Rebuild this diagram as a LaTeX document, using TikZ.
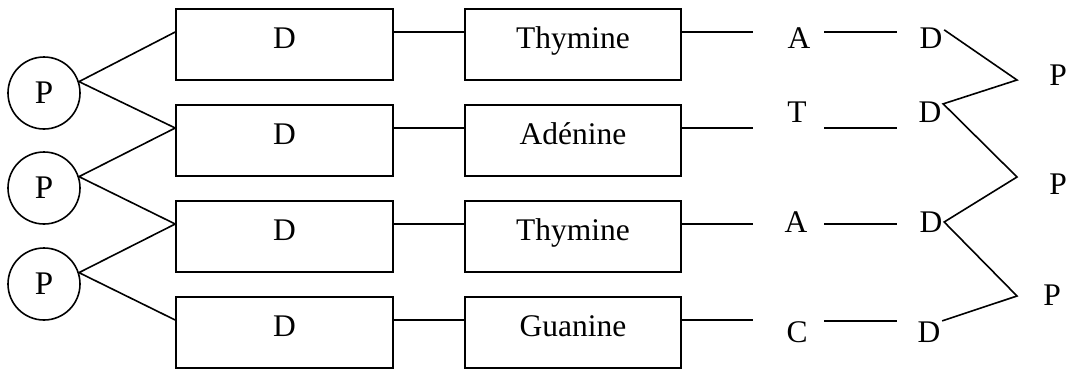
\documentclass[tikz,border=0pt]{standalone}
\usepackage{fontspec}
\setmainfont{Liberation Serif}
\begin{document}
\begin{tikzpicture}[x=1pt,y=-1pt,line width=1.6pt,
  lbl/.style={font=\fontsize{31.5}{36}\selectfont, inner sep=0pt},
  box/.style={draw, rectangle, minimum height=71pt, font=\fontsize{31.5}{36}\selectfont, text height=20pt, text depth=12pt, inner sep=0pt},
  dbox/.style={box, minimum width=217pt},
  mbox/.style={box, minimum width=216pt},
  pcirc/.style={draw, circle, minimum size=72pt, inner sep=0pt, font=\fontsize{33}{38}\selectfont}]
\useasboundingbox (0,0) rectangle (1068,368);
% circles
\node[pcirc] (p1) at (44,93) {P};
\node[pcirc] (p2) at (44,188) {P};
\node[pcirc] (p3) at (44,284) {P};
% boxes
\node[dbox] (d1) at (284.5,44.5) {D};
\node[dbox] (d2) at (284.5,140.5) {D};
\node[dbox] (d3) at (284.5,236.5) {D};
\node[dbox] (d4) at (284.5,332.5) {D};
\node[mbox] (m1) at (573,44.5) {Thymine};
\node[mbox] (m2) at (573,140.5) {Adénine};
\node[mbox] (m3) at (573,236.5) {Thymine};
\node[mbox] (m4) at (573,332.5) {Guanine};
% right letters
\node[lbl] (a1) at (799,38) {A};
\node[lbl] (t2) at (797,112) {T};
\node[lbl] (a3) at (796,222) {A};
\node[lbl] (c4) at (797,332) {C};
\node[lbl] (r1) at (931,38) {D};
\node[lbl] (r2) at (930,112) {D};
\node[lbl] (r3) at (931,222) {D};
\node[lbl] (r4) at (929,332) {D};
\node[lbl] (q1) at (1058,75) {P};
\node[lbl] (q2) at (1058,184) {P};
\node[lbl] (q3) at (1052,295) {P};
% free line ends
\coordinate (e1) at (753,32);
\coordinate (e2) at (753,128);
\coordinate (e3) at (753,224);
\coordinate (e4) at (753,320);
\coordinate (s1a) at (824,32);  \coordinate (s1b) at (897,32);
\coordinate (s2a) at (824,128); \coordinate (s2b) at (897,128);
\coordinate (s3a) at (824,224); \coordinate (s3b) at (897,224);
\coordinate (s4a) at (824,321); \coordinate (s4b) at (897,321);
\coordinate (z1) at (1017,80);
\coordinate (z2) at (1017,177);
\coordinate (z3) at (1017,296);
% left connectors
\draw ([yshift=12.5pt]d1.west) -- (p1.18) -- ([yshift=12.5pt]d2.west);
\draw ([yshift=12.5pt]d2.west) -- (p2.18) -- ([yshift=12.5pt]d3.west);
\draw ([yshift=12.5pt]d3.west) -- (p3.18) -- ([yshift=12.5pt]d4.west);
% horizontal connectors
\foreach \i in {1,2,3,4}{
  \draw ([yshift=12.5pt]d\i.east) -- ([yshift=12.5pt]m\i.west);
  \draw ([yshift=12.5pt]m\i.east) -- (e\i);
  \draw (s\i a) -- (s\i b);
}
% zigzag
\draw ([shift={(1pt,-3pt)}]r1.north east) -- (z1) -- ([shift={(1pt,-3pt)}]r2.north east) -- (z2) -- ([shift={(1pt,0pt)}]r3.east) -- (z3) -- ([shift={(1pt,0pt)}]r4.north east);
\end{tikzpicture}
\end{document}
